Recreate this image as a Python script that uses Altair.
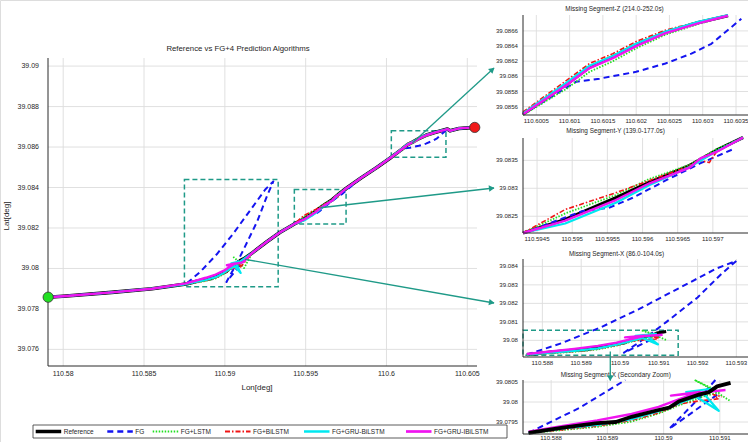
import math
import altair as alt
import pandas as pd

W, H = 748, 442
FONT = "Liberation Sans"
TEAL = "#1f9a88"
GRID = "#dcdcdc"
AXIS = "#2b2b2b"
TEXT = "#262626"

# ---------------- trajectory (lon / lat, degrees) ----------------
# reference track outside the three missing segments
REF_HEAD_LON = [110.57907, 110.5802, 110.5830, 110.5855]
REF_HEAD_LAT = [39.07858, 39.07864, 39.07882, 39.07900]
REF_MID1_LON = [110.5917, 110.5926, 110.5934]
REF_MID1_LAT = [39.08077, 39.08132, 39.08178]
REF_MID2_LON = [110.5984, 110.5994]
REF_MID2_LAT = [39.08446, 39.08499]
REF_TAIL_LON = [110.60377, 110.60393, 110.60449, 110.60546]
REF_TAIL_LAT = [39.08689, 39.08680, 39.08692, 39.08697]

# segment X (86.0-104.0 s)
X_REF_LON = [110.5876, 110.58821, 110.58882, 110.58915, 110.58943, 110.58991,
             110.59010, 110.59028, 110.59064, 110.59080, 110.59095, 110.59119]
X_REF_LAT = [39.07923, 39.07936, 39.07947, 39.07950, 39.07963, 39.07980,
             39.07986, 39.08002, 39.08019, 39.08024, 39.08039, 39.08048]
X_FG_LON = [110.5876, 110.5885, 110.5895, 110.5905, 110.5915, 110.5925, 110.5930,
            110.5926, 110.5920, 110.5912, 110.5907, 110.5901, 110.5904, 110.5910]
X_FG_LAT = [39.07923, 39.07985, 39.0807, 39.0817, 39.0828, 39.0839, 39.0843,
            39.08356, 39.08232, 39.0810, 39.0802, 39.07933, 39.07963, 39.08023]
X_LSTM_LON = [110.5876, 110.58821, 110.58882, 110.58943, 110.58991, 110.59028,
              110.59064, 110.59100, 110.59055, 110.59088, 110.59119]
X_LSTM_LAT = [39.07922, 39.07930, 39.07938, 39.07951, 39.07971, 39.07992,
              39.08011, 39.08025, 39.08055, 39.08030, 39.08002]
X_BILSTM_LON = [110.5876, 110.58821, 110.58882, 110.58943, 110.58991, 110.59028,
                110.59064, 110.59098, 110.59088, 110.59104]
X_BILSTM_LAT = [39.07923, 39.07931, 39.07940, 39.07954, 39.07973, 39.07995,
                39.08003, 39.08008, 39.08019, 39.08013]
X_GRU_LON = [110.5876, 110.58821, 110.58882, 110.58943, 110.58991, 110.59028,
             110.59058, 110.59098, 110.59070, 110.59040, 110.59095]
X_GRU_LAT = [39.07923, 39.07934, 39.07943, 39.07957, 39.07977, 39.07997,
             39.08013, 39.07978, 39.08023, 39.08025, 39.08035]
X_GRUI_LON = [110.5876, 110.58821, 110.58882, 110.58943, 110.58991, 110.59028,
              110.59064, 110.59013, 110.59110]
X_GRUI_LAT = [39.07926, 39.07940, 39.07954, 39.07970, 39.07988, 39.08007,
              39.08025, 39.08016, 39.08030]
# FG pieces that stay inside the secondary zoom window
XS_FG_A_LON = [110.5876, 110.5885, 110.58932]
XS_FG_A_LAT = [39.07923, 39.07985, 39.08055]
XS_FG_B_LON = [110.59092, 110.5907, 110.5901, 110.5904, 110.5910]
XS_FG_B_LAT = [39.08055, 39.0802, 39.07933, 39.07963, 39.08023]

# segment Y (139.0-177.0 s)
Y_REF_LON = [110.5943, 110.5949, 110.59562, 110.5961, 110.59667, 110.59705, 110.59743]
Y_REF_LAT = [39.0822, 39.08244, 39.08283, 39.08311, 39.08341, 39.08368, 39.08391]
Y_FG_LON = [110.5943, 110.59514, 110.59552, 110.59586, 110.59633, 110.59681, 110.59729]
Y_FG_LAT = [39.0822, 39.08259, 39.08265, 39.08283, 39.08314, 39.08344, 39.08370]
Y_LSTM_LON = [110.5943, 110.5949, 110.59562, 110.5961, 110.59667, 110.59705, 110.59743]
Y_LSTM_LAT = [39.0822, 39.08255, 39.08288, 39.08317, 39.08342, 39.08370, 39.08391]
Y_BILSTM_LON = [110.5943, 110.5949, 110.59562, 110.5961, 110.59667, 110.59681,
                110.59695, 110.59705, 110.59743]
Y_BILSTM_LAT = [39.0822, 39.08262, 39.08292, 39.08314, 39.08340, 39.08350,
                39.08346, 39.08365, 39.08391]
Y_GRU_LON = [110.5943, 110.5949, 110.59562, 110.5961, 110.59667, 110.59705, 110.59743]
Y_GRU_LAT = [39.0822, 39.08237, 39.08274, 39.08306, 39.08338, 39.08366, 39.08391]
Y_GRUI_LON = [110.5943, 110.5949, 110.59562, 110.5961, 110.59667, 110.59683,
              110.59693, 110.59705, 110.59743]
Y_GRUI_LAT = [39.0822, 39.08242, 39.08279, 39.08309, 39.08337, 39.08354,
              39.08359, 39.08365, 39.08391]

# segment Z (214.0-252.0 s)
Z_LON = [110.6003, 110.60096, 110.6013, 110.60165, 110.6020, 110.60244, 110.60293, 110.60338]
Z_REF_LAT = [39.0855, 39.0859, 39.08612, 39.08626, 39.08642, 39.08658, 39.08671, 39.0868]
Z_LSTM_LAT = [39.08549, 39.08584, 39.08606, 39.0862, 39.08637, 39.08655, 39.08669, 39.0868]
Z_BILSTM_LAT = [39.08553, 39.08595, 39.08617, 39.0863, 39.08646, 39.08661, 39.08672, 39.08681]
Z_GRU_LAT = [39.08551, 39.08592, 39.08614, 39.08627, 39.08643, 39.08659, 39.08672, 39.08681]
Z_GRUI_LAT = [39.0855, 39.08589, 39.08611, 39.08624, 39.0864, 39.08657, 39.0867, 39.0868]
Z_FG_LON = [110.6003, 110.6011, 110.60145, 110.6020, 110.60244, 110.60283, 110.60313, 110.60358]
Z_FG_LAT = [39.0855, 39.08593, 39.08597, 39.08606, 39.08617, 39.0863, 39.08643, 39.08676]

# ---------------- windows ----------------
MAIN_LON = [110.57906, 110.6056]
MAIN_LAT = [39.07518, 39.0904]
BOX_X_LON = [110.5875, 110.5933]
BOX_X_LAT = [39.0791, 39.0844]
BOX_Y_LON = [110.5943, 110.5975]
BOX_Y_LAT = [39.0822, 39.0839]
BOX_Z_LON = [110.6003, 110.60368]
BOX_Z_LAT = [39.08549, 39.08681]
BOX_S_LON = [110.5875, 110.5915]
BOX_S_LAT = [39.0792, 39.08055]

# ---------------- tick labels ----------------
MAIN_X_TICKS = [110.58, 110.585, 110.59, 110.595, 110.6, 110.605]
MAIN_Y_TICKS = [39.076, 39.078, 39.08, 39.082, 39.084, 39.086, 39.088, 39.09]
Z_X_TICKS = [110.6005, 110.601, 110.6015, 110.602, 110.6025, 110.603, 110.6035]
Z_Y_TICKS = [39.0856, 39.0858, 39.086, 39.0862, 39.0864, 39.0866]
Y_X_TICKS = [110.5945, 110.595, 110.5955, 110.596, 110.5965, 110.597]
Y_Y_TICKS = [39.0825, 39.083, 39.0835]
X_X_TICKS = [110.588, 110.589, 110.59, 110.591, 110.592, 110.593]
X_Y_TICKS = [39.08, 39.081, 39.082, 39.083, 39.084]
S_X_TICKS = [110.588, 110.589, 110.59, 110.591]
S_Y_TICKS = [39.0795, 39.08, 39.0805]

# annotation anchors in main-plot coordinates
ARROW_FROM_LON = [110.6016, 110.5959, 110.59125]
ARROW_FROM_LAT = [39.0862, 39.0830, 39.08045]
ZOOM_ARROW_LON = 110.58975
ZOOM_ARROW_LAT = 39.0794

SERIES = ["Reference", "FG", "FG+LSTM", "FG+BiLSTM", "FG+GRU-BiLSTM", "FG+GRU-IBiLSTM"]

# ---------------- layout / styling ----------------
PANEL_PX = {
    "main": ([48, 477], [366, 58]),
    "z": ([523, 748], [115, 15]),
    "y": ([523, 748], [233, 138]),
    "x": ([523, 748], [357, 259]),
    "s": ([523, 748], [434, 380]),
}
ARROW_TO = [(494, 68), (494, 188), (494, 303)]
ZOOM_ARROW_TO_Y = 380.5

STYLE = {
    "Reference": dict(color="#000000", width=3.2, dash=None),
    "FG": dict(color="#1414f0", width=2.0, dash=[6, 4]),
    "FG+LSTM": dict(color="#22e022", width=1.8, dash=[1.5, 1.5]),
    "FG+BiLSTM": dict(color="#f01414", width=1.6, dash=[5, 2, 1.5, 2]),
    "FG+GRU-BiLSTM": dict(color="#00e8f0", width=2.2, dash=None),
    "FG+GRU-IBiLSTM": dict(color="#f014f0", width=2.4, dash=None),
}

ONE = pd.DataFrame({"v": [0]})


def frame(lon_parts, lat_parts, pieces=False):
    rows = []
    for p, (lons, lats) in enumerate(zip(lon_parts, lat_parts)):
        for lo, la in zip(lons, lats):
            rows.append({"lon": lo, "lat": la, "piece": p})
    df = pd.DataFrame(rows)
    df["k"] = range(len(df))
    if not pieces:
        df["piece"] = 0
    return df


def to_px(key, lon_dom, lat_dom, lon, lat):
    xr, yr = PANEL_PX[key]
    x = xr[0] + (lon - lon_dom[0]) / (lon_dom[1] - lon_dom[0]) * (xr[1] - xr[0])
    y = yr[0] + (lat - lat_dom[0]) / (lat_dom[1] - lat_dom[0]) * (yr[1] - yr[0])
    return x, y


def line_layer(df, name, xs, ys, width=None):
    st = STYLE[name]
    kw = dict(color=st["color"], strokeWidth=width or st["width"], strokeJoin="round")
    if st["dash"]:
        kw["strokeDash"] = st["dash"]
    return alt.Chart(df).mark_line(**kw).encode(
        x=alt.X("lon:Q", scale=xs, axis=None),
        y=alt.Y("lat:Q", scale=ys, axis=None),
        detail="piece:N",
        order="k:Q",
    )


def box_layer(lon_dom, lat_dom, xs, ys):
    df = pd.DataFrame({"lon0": [lon_dom[0]], "lon1": [lon_dom[1]],
                       "lat0": [lat_dom[0]], "lat1": [lat_dom[1]]})
    return alt.Chart(df).mark_rect(
        fillOpacity=0, stroke=TEAL, strokeWidth=1.5, strokeDash=[5, 3]
    ).encode(
        x=alt.X("lon0:Q", scale=xs, axis=None), x2="lon1:Q",
        y=alt.Y("lat0:Q", scale=ys, axis=None), y2="lat1:Q",
    )


def arrow_line(lon, lat, end, xs, ys):
    df = pd.DataFrame({"lon": [lon], "lat": [lat]})
    return alt.Chart(df).mark_rule(color=TEAL, strokeWidth=1.3).encode(
        x=alt.X("lon:Q", scale=xs, axis=None),
        y=alt.Y("lat:Q", scale=ys, axis=None),
        x2=alt.value(end[0]), y2=alt.value(end[1]),
    )


def arrow_head(start, end):
    dx, dy = end[0] - start[0], end[1] - start[1]
    n = math.hypot(dx, dy)
    ux, uy = dx / n, dy / n
    ang = math.degrees(math.atan2(ux, -uy)) % 360
    cx, cy = end[0] - ux * 3.2, end[1] - uy * 3.2
    return alt.Chart(ONE).mark_point(
        shape="triangle", filled=True, size=42, color=TEAL, opacity=1, angle=ang
    ).encode(x=alt.value(cx), y=alt.value(cy))


def axes_layers(lon_dom, lat_dom, xt, yt, xs, ys, fs, ypad, xdy):
    """Grid, axis lines and tick labels of one panel, all through its scales."""
    def X(f):
        return alt.X(f, scale=xs, axis=None)

    def Y(f):
        return alt.Y(f, scale=ys, axis=None)

    vg = pd.DataFrame({"lon": xt, "lat0": [lat_dom[0]] * len(xt), "lat1": [lat_dom[1]] * len(xt),
                       "label": [str(v) for v in xt]})
    hg = pd.DataFrame({"lat": yt, "lon0": [lon_dom[0]] * len(yt), "lon1": [lon_dom[1]] * len(yt),
                       "label": [str(v) for v in yt]})
    dom = pd.DataFrame({"lon0": [lon_dom[0]], "lon1": [lon_dom[1]],
                        "lat0": [lat_dom[0]], "lat1": [lat_dom[1]]})
    vgrid = alt.Chart(vg).mark_rule(color=GRID, strokeWidth=0.9).encode(
        x=X("lon:Q"), y=Y("lat0:Q"), y2="lat1:Q")
    hgrid = alt.Chart(hg).mark_rule(color=GRID, strokeWidth=0.9).encode(
        y=Y("lat:Q"), x=X("lon0:Q"), x2="lon1:Q")
    bottom = alt.Chart(dom).mark_rule(color=AXIS, strokeWidth=1).encode(
        x=X("lon0:Q"), x2="lon1:Q", y=Y("lat0:Q"))
    left = alt.Chart(dom).mark_rule(color=AXIS, strokeWidth=1).encode(
        x=X("lon0:Q"), y=Y("lat0:Q"), y2="lat1:Q")
    xlab = alt.Chart(vg).mark_text(font=FONT, fontSize=fs, color=TEXT, align="center",
                                   baseline="top", dy=xdy).encode(
        x=X("lon:Q"), y=Y("lat0:Q"), text="label:N")
    ylab = alt.Chart(hg).mark_text(font=FONT, fontSize=fs, color=TEXT, align="right",
                                   baseline="middle", dx=-ypad).encode(
        x=X("lon0:Q"), y=Y("lat:Q"), text="label:N")
    return [vgrid, hgrid], [bottom, left, xlab, ylab]


def panel(key, lon_dom, lat_dom, xt, yt, lines, under_fn=None, over_fn=None,
          fs=6.1, ypad=5, xdy=3):
    xr, yr = PANEL_PX[key]
    xs = alt.Scale(domain=lon_dom, range=xr, nice=False, zero=False)
    ys = alt.Scale(domain=lat_dom, range=yr, nice=False, zero=False)
    grid, frame_layers = axes_layers(lon_dom, lat_dom, xt, yt, xs, ys, fs, ypad, xdy)
    layers = list(grid)
    if under_fn:
        layers += under_fn(xs, ys)
    for name, df, width in lines:
        layers.append(line_layer(df, name, xs, ys, width))
    layers += frame_layers
    if over_fn:
        layers += over_fn(xs, ys)
    return alt.layer(*layers)


SEG_X = {
    "Reference": (X_REF_LON, X_REF_LAT), "FG": (X_FG_LON, X_FG_LAT),
    "FG+LSTM": (X_LSTM_LON, X_LSTM_LAT), "FG+BiLSTM": (X_BILSTM_LON, X_BILSTM_LAT),
    "FG+GRU-BiLSTM": (X_GRU_LON, X_GRU_LAT), "FG+GRU-IBiLSTM": (X_GRUI_LON, X_GRUI_LAT),
}
SEG_Y = {
    "Reference": (Y_REF_LON, Y_REF_LAT), "FG": (Y_FG_LON, Y_FG_LAT),
    "FG+LSTM": (Y_LSTM_LON, Y_LSTM_LAT), "FG+BiLSTM": (Y_BILSTM_LON, Y_BILSTM_LAT),
    "FG+GRU-BiLSTM": (Y_GRU_LON, Y_GRU_LAT), "FG+GRU-IBiLSTM": (Y_GRUI_LON, Y_GRUI_LAT),
}
SEG_Z = {
    "Reference": (Z_LON, Z_REF_LAT), "FG": (Z_FG_LON, Z_FG_LAT),
    "FG+LSTM": (Z_LON, Z_LSTM_LAT), "FG+BiLSTM": (Z_LON, Z_BILSTM_LAT),
    "FG+GRU-BiLSTM": (Z_LON, Z_GRU_LAT), "FG+GRU-IBiLSTM": (Z_LON, Z_GRUI_LAT),
}

# full tracks: measured outside the gaps, each method's output inside them
main_lines = []
for name in SERIES:
    lon_parts = [REF_HEAD_LON, SEG_X[name][0], REF_MID1_LON, SEG_Y[name][0],
                 REF_MID2_LON, SEG_Z[name][0], REF_TAIL_LON]
    lat_parts = [REF_HEAD_LAT, SEG_X[name][1], REF_MID1_LAT, SEG_Y[name][1],
                 REF_MID2_LAT, SEG_Z[name][1], REF_TAIL_LAT]
    main_lines.append((name, frame(lon_parts, lat_parts), 3.6 if name == "Reference" else None))


def seg_lines(seg):
    return [(n, frame([seg[n][0]], [seg[n][1]]), None) for n in SERIES]


def main_under(xs, ys):
    return [box_layer(BOX_X_LON, BOX_X_LAT, xs, ys),
            box_layer(BOX_Y_LON, BOX_Y_LAT, xs, ys),
            box_layer(BOX_Z_LON, BOX_Z_LAT, xs, ys)]


def main_over(xs, ys):
    out = [arrow_line(lo, la, end, xs, ys)
           for lo, la, end in zip(ARROW_FROM_LON, ARROW_FROM_LAT, ARROW_TO)]
    start = pd.DataFrame({"lon": [REF_HEAD_LON[0]], "lat": [REF_HEAD_LAT[0]]})
    end = pd.DataFrame({"lon": [REF_TAIL_LON[-1]], "lat": [REF_TAIL_LAT[-1]]})
    for df, col in ((start, "#22e022"), (end, "#f01a1a")):
        out.append(alt.Chart(df).mark_point(
            filled=True, size=105, color=col, stroke="#333333", strokeWidth=0.8, opacity=1
        ).encode(x=alt.X("lon:Q", scale=xs, axis=None), y=alt.Y("lat:Q", scale=ys, axis=None)))
    return out


zoom_start = to_px("x", BOX_X_LON, BOX_X_LAT, ZOOM_ARROW_LON, ZOOM_ARROW_LAT)
zoom_end = (zoom_start[0], ZOOM_ARROW_TO_Y)


def x_under(xs, ys):
    return [box_layer(BOX_S_LON, BOX_S_LAT, xs, ys)]


def x_over(xs, ys):
    return [arrow_line(ZOOM_ARROW_LON, ZOOM_ARROW_LAT, zoom_end, xs, ys)]


# secondary zoom: the thick reference track is drawn over the predictions
sec_lines = []
for name in SERIES[1:] + SERIES[:1]:
    if name == "FG":
        df = frame([XS_FG_A_LON, XS_FG_B_LON], [XS_FG_A_LAT, XS_FG_B_LAT], pieces=True)
    else:
        df = frame([SEG_X[name][0]], [SEG_X[name][1]])
    sec_lines.append((name, df, 3.8 if name == "Reference" else None))

main = panel("main", MAIN_LON, MAIN_LAT, MAIN_X_TICKS, MAIN_Y_TICKS, main_lines,
             main_under, main_over, fs=7, ypad=9, xdy=4)
pz = panel("z", BOX_Z_LON, BOX_Z_LAT, Z_X_TICKS, Z_Y_TICKS, seg_lines(SEG_Z))
py = panel("y", BOX_Y_LON, BOX_Y_LAT, Y_X_TICKS, Y_Y_TICKS, seg_lines(SEG_Y))
px = panel("x", BOX_X_LON, BOX_X_LAT, X_X_TICKS, X_Y_TICKS, seg_lines(SEG_X),
           x_under, x_over)
ps = panel("s", BOX_S_LON, BOX_S_LAT, S_X_TICKS, S_Y_TICKS, sec_lines, xdy=1)

# titles and axis names
TITLES = [
    ("Reference vs FG+4 Prediction Algorithms", 238, 49, 7.8, 0),
    ("Missing Segment-Z (214.0-252.0s)", 614.5, 9, 6.4, 0),
    ("Missing Segment-Y (139.0-177.0s)", 615.5, 130.5, 6.4, 0),
    ("Missing Segment-X (86.0-104.0s)", 616.5, 253.5, 6.4, 0),
    ("Missing Segment-X (Secondary Zoom)", 615.7, 374.5, 6.4, 0),
    ("Lon[deg]", 257, 388, 8, 0),
    ("Lat[deg]", 7, 216, 8, 270),
]
title_layers = [
    alt.Chart(ONE).mark_text(font=FONT, fontSize=fs, color=TEXT, align="center",
                             baseline="middle", angle=ang).encode(
        x=alt.value(tx), y=alt.value(ty), text=alt.value(t))
    for t, tx, ty, fs, ang in TITLES
]

# legend
LEG_BOX = (33, 507, 425, 438)
LEG_ROW_Y = 431.5
LEG_ITEM_X = [35.7, 107.3, 152.7, 225, 304, 406]
LEG_LINE_LEN = 25.5
legend_layers = [alt.Chart(ONE).mark_rect(fill="white", stroke="#333333", strokeWidth=0.8).encode(
    x=alt.value(LEG_BOX[0]), x2=alt.value(LEG_BOX[1]),
    y=alt.value(LEG_BOX[2]), y2=alt.value(LEG_BOX[3]))]
for name, lx in zip(SERIES, LEG_ITEM_X):
    st = STYLE[name]
    kw = dict(color=st["color"], strokeWidth=3.5 if name == "Reference" else st["width"] + 0.3)
    if st["dash"]:
        kw["strokeDash"] = st["dash"]
    legend_layers.append(alt.Chart(ONE).mark_rule(**kw).encode(
        x=alt.value(lx), x2=alt.value(lx + LEG_LINE_LEN), y=alt.value(LEG_ROW_Y)))
    legend_layers.append(alt.Chart(ONE).mark_text(
        font=FONT, fontSize=6.5, color=TEXT, align="left", baseline="middle").encode(
        x=alt.value(lx + LEG_LINE_LEN + 2.5), y=alt.value(LEG_ROW_Y), text=alt.value(name)))

# arrow heads
heads = []
for lo, la, end in zip(ARROW_FROM_LON, ARROW_FROM_LAT, ARROW_TO):
    heads.append(arrow_head(to_px("main", MAIN_LON, MAIN_LAT, lo, la), end))
heads.append(arrow_head(zoom_start, zoom_end))

chart = alt.layer(
    *title_layers, main, pz, py, px, ps, *legend_layers, *heads
).resolve_scale(
    x="independent", y="independent"
).properties(
    width=W, height=H, autosize="none", padding=0, background="white"
).configure_view(strokeWidth=0).configure(font=FONT)

chart.save("out.html", embed_options={"renderer": "svg", "actions": False})
